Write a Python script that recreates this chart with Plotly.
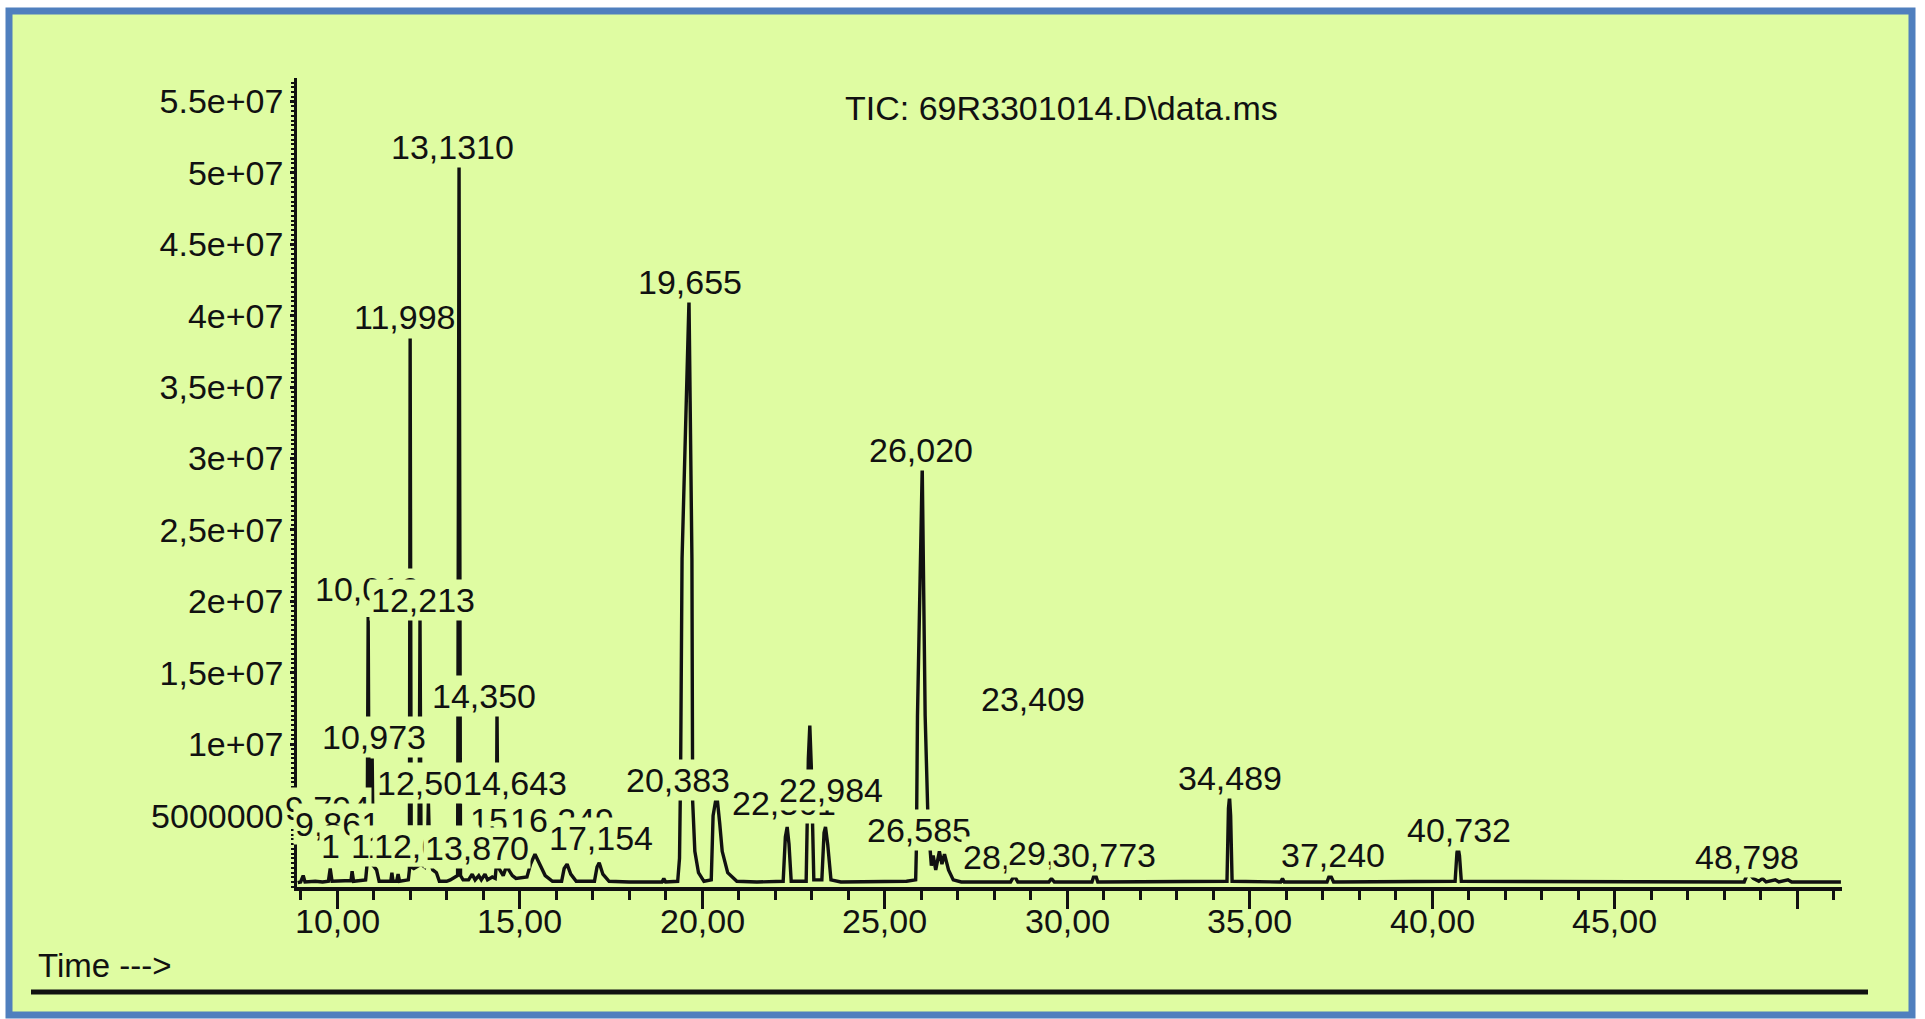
import plotly.graph_objects as go

# ---------------- data ----------------
# retention time (min) and TIC abundance of the chromatogram trace
times = [8.92, 9.00, 9.07, 9.12, 9.40, 9.60, 9.76, 9.81, 9.86, 10.20, 10.38, 10.41, 10.45,
         10.78, 10.82, 10.85, 10.88, 10.92, 10.96, 10.99, 11.08, 11.15, 11.47, 11.50, 11.53,
         11.63, 11.67, 11.71, 11.95, 11.98, 12.00, 12.03, 12.10, 12.24, 12.27, 12.30, 12.40,
         12.47, 12.50, 12.54, 12.62, 12.72, 12.80, 13.00, 13.10, 13.30, 13.34, 13.38, 13.45,
         13.60, 13.70, 13.78, 13.88, 13.95, 14.05, 14.12, 14.25, 14.33, 14.36, 14.38, 14.41,
         14.55, 14.62, 14.66, 14.70, 14.80, 14.90, 15.20, 15.30, 15.42, 15.55, 15.70, 15.90,
         16.15, 16.22, 16.30, 16.40, 16.55, 17.05, 17.12, 17.18, 17.28, 17.45, 18.00, 18.90,
         18.95, 19.00, 19.33, 19.38, 19.41, 19.45, 19.64, 19.72, 19.74, 19.80, 19.90, 20.05,
         20.25, 20.30, 20.40, 20.48, 20.55, 20.70, 20.95, 21.50, 22.22, 22.28, 22.33, 22.38,
         22.44, 22.85, 22.91, 22.95, 22.99, 23.06, 23.28, 23.34, 23.38, 23.44, 23.53, 23.80,
         25.00, 25.60, 25.85, 25.87, 25.90, 26.03, 26.11, 26.19, 26.28, 26.33, 26.40, 26.50,
         26.57, 26.64, 26.75, 26.88, 27.10, 28.45, 28.55, 28.65, 29.50, 29.57, 29.65, 30.68,
         30.76, 30.84, 34.38, 34.42, 34.45, 34.48, 34.52, 35.85, 35.90, 35.95, 37.12, 37.20,
         37.30, 40.63, 40.68, 40.71, 40.75, 40.80, 48.55, 48.62, 48.70, 48.80, 48.95, 49.05,
         49.15, 49.40, 49.50, 49.75, 49.85, 51.20]
abundance = [3.0e5, 3.5e5, 8.0e5, 3.5e5, 4.0e5, 3.5e5, 4.0e5, 1.3e6, 4.0e5, 4.0e5, 4.5e5, 1.1e6, 4.0e5,
             5.0e5, 1.6e6, 1.89e7, 1.8e6, 1.6e6, 9.0e6, 1.5e6, 1.2e6, 4.0e5, 4.0e5, 1.0e6, 4.0e5,
             4.0e5, 9.0e5, 4.0e5, 5.0e5, 1.2e6, 3.84e7, 1.4e6, 1.3e6, 1.5e6, 1.88e7, 1.6e6, 1.4e6,
             2.0e6, 6.0e6, 1.8e6, 1.2e6, 1.0e6, 4.0e5, 4.0e5, 5.0e5, 8.0e5, 5.07e7, 8.0e5, 5.0e5,
             5.0e5, 9.0e5, 5.0e5, 8.0e5, 5.0e5, 9.0e5, 5.0e5, 7.0e5, 6.0e5, 1.5e6, 1.24e7, 1.4e6,
             8.0e5, 1.3e6, 6.0e6, 1.2e6, 8.0e5, 6.0e5, 7.0e5, 1.6e6, 2.3e6, 1.6e6, 8.0e5, 4.0e5,
             4.0e5, 1.3e6, 1.6e6, 9.0e5, 4.0e5, 4.0e5, 1.4e6, 1.7e6, 9.0e5, 4.0e5, 3.5e5, 3.5e5,
             6.0e5, 3.5e5, 4.0e5, 2.0e6, 8.0e6, 2.3e7, 4.11e7, 2.3e7, 6.0e6, 2.5e6, 1.0e6, 4.0e5,
             5.0e5, 5.0e6, 6.5e6, 4.5e6, 2.5e6, 1.0e6, 4.0e5, 3.5e5, 4.0e5, 3.5e6, 4.2e6, 3.0e6,
             4.0e5, 4.0e5, 9.0e6, 1.13e7, 8.5e6, 5.0e5, 5.0e5, 3.8e6, 4.2e6, 3.0e6, 5.0e5, 3.5e5,
             3.5e5, 4.0e5, 5.0e5, 2.7e6, 1.2e7, 2.94e7, 1.2e7, 4.5e6, 1.5e6, 2.2e6, 1.2e6, 2.5e6,
             1.6e6, 2.3e6, 1.2e6, 5.0e5, 3.5e5, 3.5e5, 8.0e5, 3.5e5, 3.5e5, 6.0e5, 3.5e5, 3.5e5,
             1.0e6, 3.5e5, 4.0e5, 5.5e6, 6.3e6, 5.0e6, 4.0e5, 3.5e5, 6.0e5, 3.5e5, 3.5e5, 9.0e5,
             3.5e5, 4.0e5, 2.4e6, 2.8e6, 2.2e6, 4.0e5, 3.5e5, 8.0e5, 9.0e5, 6.0e5, 4.0e5, 6.0e5,
             3.5e5, 5.0e5, 3.5e5, 5.0e5, 3.5e5, 3.5e5]

# peak labels (text, time and abundance where the label sits)
peak_labels = ["13,1310", "11,998", "19,655", "26,020", "10,016", "12,213", "14,350", "10,973",
               "12,504", "14,643", "20,383", "22,361", "22,984", "23,409", "26,585", "28,421",
               "29,561", "30,773", "34,489", "37,240", "40,732", "48,798", "9,794", "9,861",
               "15,391", "16,249", "17,154", "1", "11,652", "12,658", "13,870"]
label_t = [13.15, 11.84, 19.67, 26.00, 10.82, 12.36, 14.03, 11.01,
           12.52, 14.88, 19.34, 22.25, 23.53, 29.07, 25.95, 28.58,
           29.81, 31.01, 34.47, 37.29, 40.74, 48.63, 9.73, 10.00,
           15.07, 16.16, 17.23, 9.81, 11.75, 12.44, 13.84]
label_v = [5.18e7, 3.99e7, 4.24e7, 3.06e7, 2.09e7, 2.01e7, 1.34e7, 1.05e7,
           7.28e6, 7.28e6, 7.49e6, 5.88e6, 6.79e6, 1.32e7, 3.99e6, 2.10e6,
           2.38e6, 2.24e6, 7.63e6, 2.24e6, 3.99e6, 2.10e6, 5.53e6, 4.41e6,
           4.69e6, 4.69e6, 3.43e6, 2.87e6, 2.87e6, 2.87e6, 2.73e6]

# axis ticks
x_tickvals = [10, 15, 20, 25, 30, 35, 40, 45, 50]
x_ticktext = ["10,00", "15,00", "20,00", "25,00", "30,00", "35,00", "40,00", "45,00", ""]
y_tickvals = [5e6, 1e7, 1.5e7, 2e7, 2.5e7, 3e7, 3.5e7, 4e7, 4.5e7, 5e7, 5.5e7]
y_ticktext = ["5000000", "1e+07", "1,5e+07", "2e+07", "2,5e+07", "3e+07", "3,5e+07",
              "4e+07", "4.5e+07", "5e+07", "5.5e+07"]
x_range = [8.90, 51.23]
y_range = [0, 5.665e7]

title_text = "TIC: 69R3301014.D\\data.ms"
axis_text = "Time --->"

# ---------------- style ----------------
W, H = 1925, 1019
L, R, T, B = 297, 1842, 78, 887
BG = "#dffca2"
BLUE = "#4f7fbe"
FONT = "Liberation Sans, Arial, sans-serif"
INK = "#111111"


def px(xp):
    return (xp - L) / (R - L)


def py(yp):
    return (B - yp) / (B - T)


fig = go.Figure()
fig.add_trace(go.Scatter(x=times, y=abundance, mode="lines",
                         line=dict(color=INK, width=3.4), hoverinfo="skip",
                         showlegend=False, cliponaxis=True))

annotations = []
for txt, t, v in zip(peak_labels, label_t, label_v):
    annotations.append(dict(x=t, y=v, xref="x", yref="y", text=txt, showarrow=False,
                            xanchor="center", yanchor="middle", bgcolor=BG, borderpad=1,
                            font=dict(family=FONT, size=34, color=INK)))
for tv, tt in zip(x_tickvals, x_ticktext):
    if tt:
        annotations.append(dict(x=tv, y=py(921), xref="x", yref="paper", text=tt,
                                showarrow=False, xanchor="center", yanchor="middle",
                                font=dict(family=FONT, size=34, color=INK)))
annotations.append(dict(x=px(1061), y=py(108), xref="paper", yref="paper", text=title_text,
                        showarrow=False, xanchor="center", yanchor="middle",
                        font=dict(family=FONT, size=34, color=INK)))
annotations.append(dict(x=px(36), y=py(965), xref="paper", yref="paper", text=axis_text,
                        showarrow=False, xanchor="left", yanchor="middle",
                        font=dict(family=FONT, size=33, color=INK)))

shapes = [
    dict(type="rect", xref="paper", yref="paper", x0=px(9), x1=px(1912), y0=py(11), y1=py(1015),
         fillcolor=BG, line=dict(color=BLUE, width=7), layer="below"),
    dict(type="line", xref="paper", yref="paper", x0=px(31), x1=px(1868), y0=py(992), y1=py(992),
         line=dict(color=INK, width=5)),
]

fig.update_layout(
    width=W, height=H, autosize=False,
    margin=dict(l=L, r=W - R, t=T, b=H - B, pad=0),
    paper_bgcolor="white", plot_bgcolor="rgba(0,0,0,0)",
    annotations=annotations, shapes=shapes, showlegend=False,
    xaxis=dict(range=x_range, showgrid=False, zeroline=False, showline=True,
               linecolor=INK, linewidth=4, tickmode="array", tickvals=x_tickvals,
               showticklabels=False, ticks="outside", ticklen=18, tickwidth=3,
               tickcolor=INK,
               minor=dict(ticks="outside", tickmode="linear", tick0=0, dtick=1, ticklen=9,
                          tickwidth=2.5, tickcolor=INK, showgrid=False)),
    yaxis=dict(range=y_range, showgrid=False, zeroline=False, showline=True,
               linecolor=INK, linewidth=2.5, tickmode="array", tickvals=y_tickvals,
               ticktext=y_ticktext, ticks="outside", ticklen=4, tickwidth=2.5,
               tickcolor=INK, tickfont=dict(family=FONT, size=34, color=INK),
               minor=dict(ticks="outside", tickmode="linear", tick0=0, dtick=1e6 / 3,
                          ticklen=3, tickwidth=2, tickcolor=INK, showgrid=False)),
)

fig.write_html("out.html", config={"displayModeBar": False},
               post_script="document.body.style.margin='0px';document.body.style.overflow='hidden';")
